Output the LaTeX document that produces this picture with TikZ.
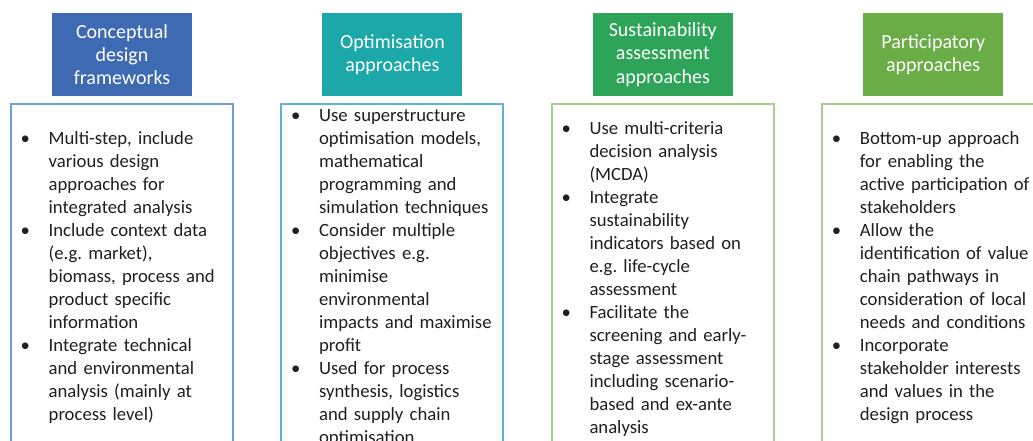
\documentclass[tikz,border=0pt]{standalone}
\usepackage{fontspec}
\setmainfont{Carlito}
\usetikzlibrary{positioning}
\frenchspacing

\definecolor{hblue}{RGB}{62,106,180}
\definecolor{hteal}{RGB}{28,168,168}
\definecolor{hgreen}{RGB}{45,164,88}
\definecolor{hlime}{RGB}{106,172,70}
\definecolor{pblue}{RGB}{108,158,216}
\definecolor{pteal}{RGB}{96,178,212}
\definecolor{pgreen}{RGB}{166,206,140}
\definecolor{plime}{RGB}{166,206,140}

\newcommand{\bitem}{\makebox[28bp][l]{\textbullet}}
\newcommand{\bcont}{\hspace*{28bp}}

\begin{document}
\begin{tikzpicture}[x=1bp, y=-1bp, font=\fontsize{18.7bp}{23bp}\selectfont, node distance=130bp,
    head/.style={rectangle, minimum width=140bp, minimum height=83bp, inner sep=0pt, align=center, text=white,
      font=\fontsize{20bp}{23.3bp}\selectfont},
    panel/.style={rectangle, line width=2bp, minimum width=222bp, minimum height=380bp, inner sep=0pt},
    items/.style={anchor=north west, inner sep=0pt, align=left, text width=215bp, text=black!88}]
\useasboundingbox (0,0) rectangle (1033,441);
\clip (0,0) rectangle (1033,441);
% column headers
\node[head, fill=hblue] (h1) at (122,54.5) {Conceptual\\design\\frameworks};
\node[head, fill=hteal, right=of h1] (h2) {Optimisation\\approaches};
\node[head, fill=hgreen, right=of h2] (h3) {Sustainability\\assessment\\approaches};
\node[head, fill=hlime, right=of h3] (h4) {Participatory\\approaches};
% panels
\node[panel, draw=pblue, below=7bp of h1] (b1) {};
\node[panel, draw=pteal, below=7bp of h2] (b2) {};
\node[panel, draw=pgreen, below=7bp of h3] (b3) {};
\node[panel, draw=plime, below=7bp of h4] (b4) {};
% bullet lists
\node[items] (l1) at ([xshift=10.5bp, yshift=-24.9bp] b1.north west)
  {\strut\bitem Multi-step, include\\ \bcont various design\\ \bcont approaches for\\ \bcont integrated analysis\\
   \bitem Include context data\\ \bcont (e.g. market),\\ \bcont biomass, process and\\ \bcont product specific\\ \bcont information\\
   \bitem Integrate technical\\ \bcont and environmental\\ \bcont analysis (mainly at\\ \bcont process level)};
\node[items] (l2) at ([xshift=10.5bp, yshift=-1.9bp] b2.north west)
  {\strut\bitem Use superstructure\\ \bcont optimisation models,\\ \bcont mathematical\\ \bcont programming and\\ \bcont simulation techniques\\
   \bitem Consider multiple\\ \bcont objectives e.g.\\ \bcont minimise\\ \bcont environmental\\ \bcont impacts and maximise\\ \bcont profit\\
   \bitem Used for process\\ \bcont synthesis, logistics\\ \bcont and supply chain\\ \bcont optimisation};
\node[items] (l3) at ([xshift=10.5bp, yshift=-14.9bp] b3.north west)
  {\strut\bitem Use multi-criteria\\ \bcont decision analysis\\ \bcont (MCDA)\\
   \bitem Integrate\\ \bcont sustainability\\ \bcont indicators based on\\ \bcont e.g. life-cycle\\ \bcont assessment\\
   \bitem Facilitate the\\ \bcont screening and early-\\ \bcont stage assessment\\ \bcont including scenario-\\ \bcont based and ex-ante\\ \bcont analysis};
\node[items] (l4) at ([xshift=10.5bp, yshift=-24.9bp] b4.north west)
  {\strut\bitem Bottom-up approach\\ \bcont for enabling the\\ \bcont active participation of\\ \bcont stakeholders\\
   \bitem Allow the\\ \bcont identification of value\\ \bcont chain pathways in\\ \bcont consideration of local\\ \bcont needs and conditions\\
   \bitem Incorporate\\ \bcont stakeholder interests\\ \bcont and values in the\\ \bcont design process};
\end{tikzpicture}
\end{document}
